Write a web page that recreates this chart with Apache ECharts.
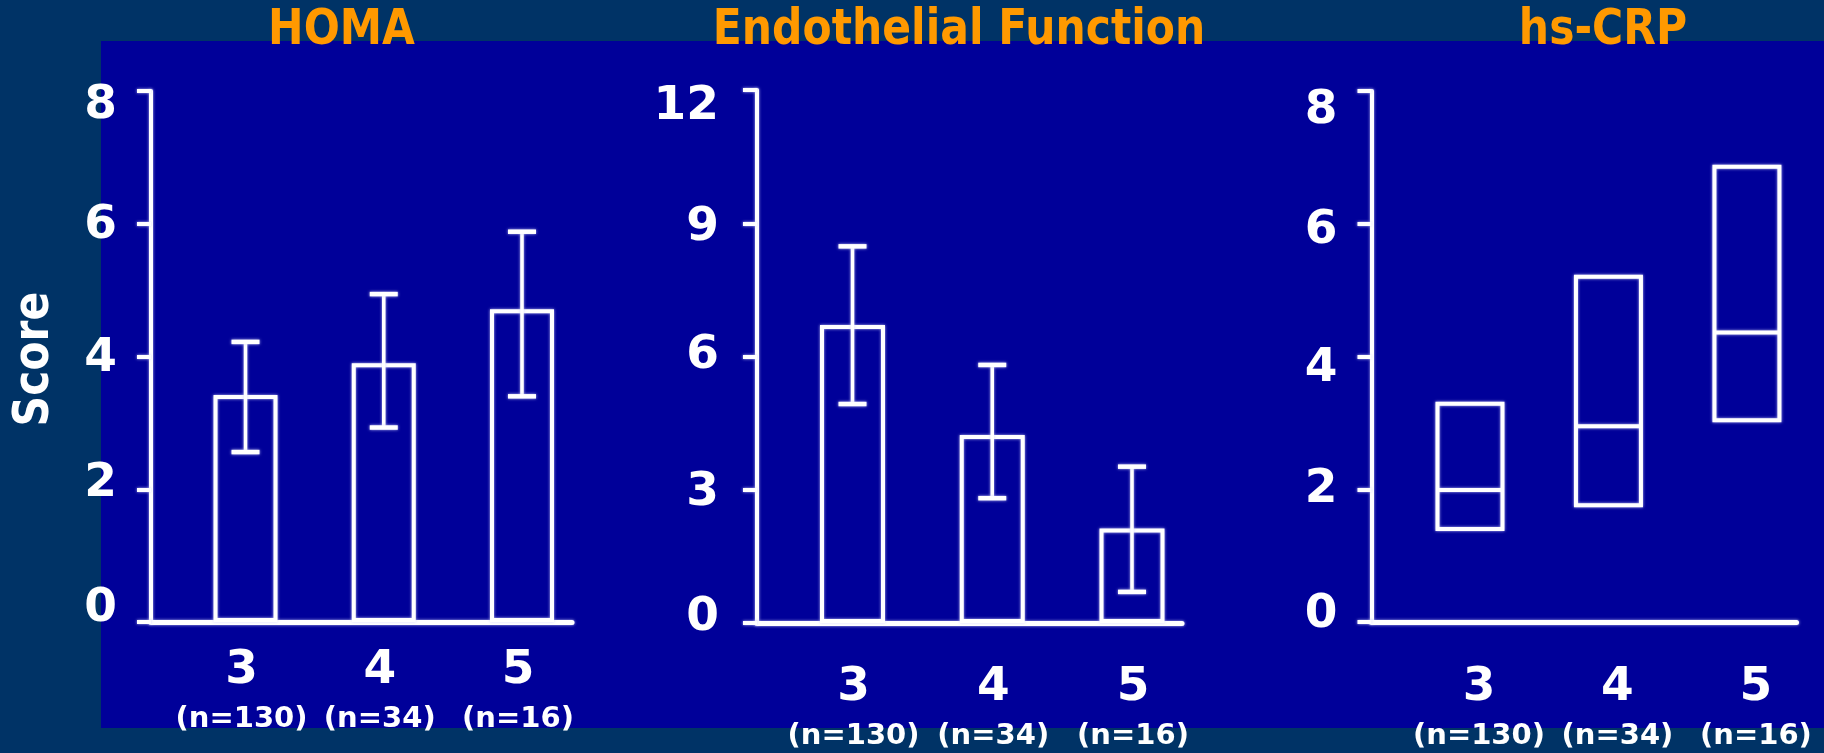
<!DOCTYPE html>
<html>
<head>
<meta charset="utf-8">
<script src="https://cdn.jsdelivr.net/npm/echarts@6/dist/echarts.min.js"></script>
<style>
  html, body { margin: 0; padding: 0; background: #003366; }
  #chart { width: 1824px; height: 753px; }
</style>
</head>
<body>
<div id="chart"></div>
<script>
// Groups: number of components, with group sizes
const groups = [3, 4, 5];
const groupSizes = [130, 34, 16];

// HOMA: mean with error bars
const homaMean = [3.42, 3.90, 4.71];
const homaLow = [2.56, 2.93, 3.40];
const homaHigh = [4.22, 4.94, 5.88];
const homaTicks = [0, 2, 4, 6, 8];

// Endothelial function: mean with error bars
const endoMean = [6.71, 4.23, 2.13];
const endoLow = [4.93, 2.81, 0.70];
const endoHigh = [8.48, 5.81, 3.52];
const endoTicks = [0, 3, 6, 9, 12];

// hs-CRP: median and interquartile range
const crpQ1 = [1.40, 1.76, 3.04];
const crpMedian = [1.99, 2.95, 4.36];
const crpQ3 = [3.29, 5.20, 6.86];
const crpTicks = [0, 2, 4, 6, 8];

const panelTitles = ['HOMA', 'Endothelial Function', 'hs-CRP'];
const yAxisTitle = 'Score';

// ---- styling / layout ----
const WHITE = '#ffffff';
const ORANGE = '#FF9900';
const PANEL_BLUE = '#000099';
const GLOW = 'rgba(210,210,255,0.9)';
const FONT = '"DejaVu Sans", Verdana, sans-serif';

const panels = [
  { left: 151, top: 91, width: 421, height: 531, xMin: 2.3164, xMax: 5.3617,
    ticks: homaTicks, labelMargin: 34, nudge: [-13, -5, 2, 2, 15],
    catMargin: 20, catShift: -4, titleX: 341.5 },
  { left: 757, top: 90, width: 425, height: 533, xMin: 2.3166, xMax: 5.3578,
    ticks: endoTicks, labelMargin: 38, nudge: [-5, 3, -1, 5, 17],
    catMargin: 36, catShift: 1, titleX: 959 },
  { left: 1371.5, top: 91, width: 425, height: 531, xMin: 2.2888, xMax: 5.358,
    ticks: crpTicks, labelMargin: 34, nudge: [-7, 1, 12, 7, 20],
    catMargin: 37, catShift: 9, titleX: 1603 }
];

function shiftPadding(dx, dy) {
  // balanced token padding: moves the text by (dx, dy) without changing the box size
  return [dy, -dx, -dy, dx];
}

function yLabelRich(p) {
  const rich = {};
  p.ticks.forEach((t, i) => {
    rich['t' + i] = {
      fontSize: 47, fontWeight: 'bold', fontFamily: FONT, color: WHITE,
      padding: shiftPadding(0, p.nudge[i])
    };
  });
  return rich;
}

const grid = panels.map(p => ({
  left: p.left, top: p.top, width: p.width, height: p.height, containLabel: false
}));

const xAxis = panels.map((p, k) => ({
  type: 'value', gridIndex: k, min: p.xMin, max: p.xMax,
  axisLine: { show: true, onZero: false,
    lineStyle: { color: WHITE, width: 5, shadowColor: GLOW, shadowBlur: 3 } },
  axisTick: { show: false },
  splitLine: { show: false },
  axisLabel: {
    customValues: groups,
    showMinLabel: true, showMaxLabel: true, hideOverlap: false,
    margin: p.catMargin,
    formatter: v => {
      const i = groups.indexOf(v);
      return i < 0 ? '' : `{g|${v}}\n{n|(n=${groupSizes[i]})}`;
    },
    rich: {
      g: { fontSize: 47, fontWeight: 'bold', fontFamily: FONT, color: WHITE, lineHeight: 58,
           padding: shiftPadding(p.catShift, 0) },
      n: { fontSize: 29, fontWeight: 'bold', fontFamily: FONT, color: WHITE, lineHeight: 39,
           padding: shiftPadding(p.catShift, 0) }
    }
  }
}));

const yAxis = panels.map((p, k) => ({
  type: 'value', gridIndex: k, min: 0, max: p.ticks[p.ticks.length - 1],
  interval: p.ticks[1] - p.ticks[0],
  axisLine: { show: true, lineStyle: { color: WHITE, width: 4, shadowColor: GLOW, shadowBlur: 3 } },
  axisTick: { show: true, length: 14, lineStyle: { color: WHITE, width: 4, shadowColor: GLOW, shadowBlur: 3 } },
  splitLine: { show: false },
  axisLabel: {
    margin: p.labelMargin,
    showMinLabel: true, showMaxLabel: true,
    formatter: v => {
      const i = p.ticks.indexOf(v);
      return i < 0 ? '' : `{t${i}|${v}}`;
    },
    rich: yLabelRich(p)
  }
}));

const CAP_HALF = 14;
function renderErrorBar(params, api) {
  const x = api.value(0);
  const top = api.coord([x, api.value(2)]);
  const bot = api.coord([x, api.value(1)]);
  const stem = { stroke: WHITE, lineWidth: 3.5, shadowColor: GLOW, shadowBlur: 3 };
  const cap = { stroke: WHITE, lineWidth: 4.5, shadowColor: GLOW, shadowBlur: 3 };
  return {
    type: 'group',
    children: [
      { type: 'line', shape: { x1: top[0], y1: top[1], x2: bot[0], y2: bot[1] }, style: stem },
      { type: 'line', shape: { x1: top[0] - CAP_HALF, y1: top[1], x2: top[0] + CAP_HALF, y2: top[1] }, style: cap },
      { type: 'line', shape: { x1: bot[0] - CAP_HALF, y1: bot[1], x2: bot[0] + CAP_HALF, y2: bot[1] }, style: cap }
    ]
  };
}

function meanBars(k, mean, width) {
  return {
    type: 'bar', xAxisIndex: k, yAxisIndex: k, barWidth: width,
    data: groups.map((g, i) => [g, mean[i]]),
    itemStyle: { color: 'rgba(0,0,0,0)', borderColor: WHITE, borderWidth: 4,
                 shadowColor: GLOW, shadowBlur: 3 },
    silent: true, z: 2
  };
}

function errorBars(k, low, high) {
  return {
    type: 'custom', xAxisIndex: k, yAxisIndex: k,
    data: groups.map((g, i) => [g, low[i], high[i]]),
    encode: { x: 0, y: [1, 2] },
    renderItem: renderErrorBar, silent: true, z: 3
  };
}

const series = [
  meanBars(0, homaMean, 64),
  errorBars(0, homaLow, homaHigh),
  meanBars(1, endoMean, 65),
  errorBars(1, endoLow, endoHigh),
  {
    type: 'boxplot', xAxisIndex: 2, yAxisIndex: 2, boxWidth: [65, 65],
    data: groups.map((g, i) => [g, crpQ1[i], crpQ1[i], crpMedian[i], crpQ3[i], crpQ3[i]]),
    itemStyle: { color: 'rgba(0,0,0,0)', borderColor: WHITE, borderWidth: 4,
                 shadowColor: GLOW, shadowBlur: 3 },
    silent: true, z: 2
  }
];

const graphicElements = [
  { type: 'rect', z: -10, silent: true,
    shape: { x: 101, y: 41, width: 1723, height: 687 }, style: { fill: PANEL_BLUE } },
  ...panelTitles.map((t, i) => ({
    type: 'text', z: 100, x: panels[i].titleX, y: 31, scaleX: 0.85, silent: true,
    style: { text: t, font: `bold 50px ${FONT}`, fill: ORANGE, align: 'center', verticalAlign: 'middle' }
  })),
  { type: 'text', z: 100, x: 35, y: 359, rotation: Math.PI / 2, scaleX: 0.85, silent: true,
    style: { text: yAxisTitle, font: `bold 50px ${FONT}`, fill: WHITE, align: 'center', verticalAlign: 'middle' } }
];

const chart = echarts.init(document.getElementById('chart'), null, { renderer: 'canvas' });
chart.setOption({
  backgroundColor: '#003366',
  animation: false,
  grid, xAxis, yAxis, series,
  graphic: { elements: graphicElements }
});
</script>
</body>
</html>
